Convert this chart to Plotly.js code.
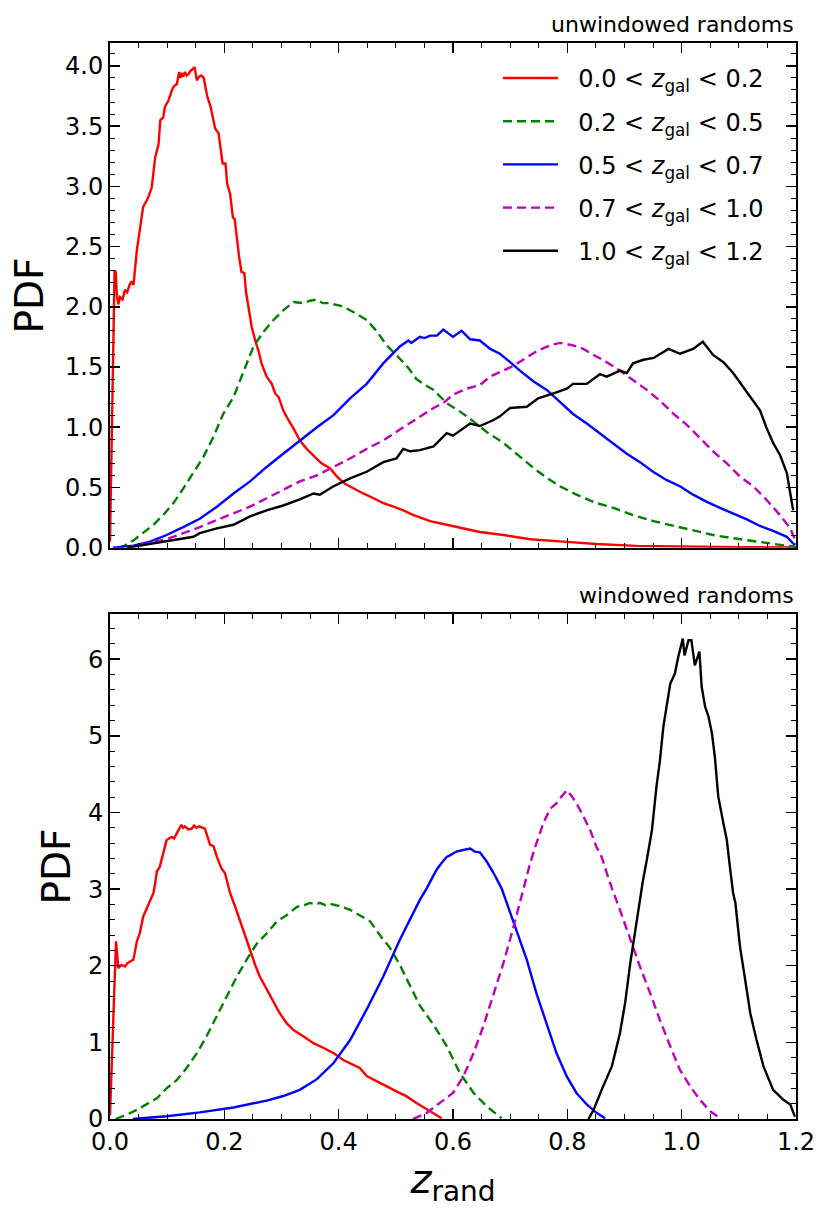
<!DOCTYPE html>
<html>
<head>
<meta charset="utf-8">
<script src="https://cdn.plot.ly/plotly-3.0.1.min.js"></script>
<style>html,body{margin:0;padding:0;background:#fff;}#chart{width:831px;height:1214px;}</style>
</head>
<body>
<div id="chart"></div>
<script>
// ---------- DATA ----------
const seriesNames = ["0.0 < <i>z</i><sub>gal</sub> < 0.2","0.2 < <i>z</i><sub>gal</sub> < 0.5","0.5 < <i>z</i><sub>gal</sub> < 0.7","0.7 < <i>z</i><sub>gal</sub> < 1.0","1.0 < <i>z</i><sub>gal</sub> < 1.2"];
const panelLabels = ["unwindowed randoms","windowed randoms"];
const yTitle = "PDF";
const xTickVals = [0,0.2,0.4,0.6,0.8,1.0,1.2];

// top panel (unwindowed)
const topZ1 = [0.000,0.003,0.006,0.008,0.010,0.012,0.0145,0.0175,0.022,0.026,0.030,0.034,0.038,0.041,0.047,0.052,0.058,0.063,0.067,0.073,0.079,0.085,0.088,0.093,0.096,0.102,0.106,0.110,0.114,0.117,0.121,0.123,0.125,0.128,0.131,0.134,0.137,0.141,0.144,0.148,0.152,0.156,0.160,0.164,0.170,0.176,0.180,0.184,0.190,0.197,0.202,0.205,0.210,0.215,0.218,0.222,0.226,0.230,0.235,0.238,0.242,0.248,0.254,0.260,0.265,0.274,0.283,0.289,0.295,0.303,0.312,0.321,0.332,0.344,0.359,0.370,0.385,0.397,0.411,0.426,0.443,0.461,0.478,0.496,0.513,0.531,0.545,0.560,0.589,0.618,0.647,0.688,0.735,0.793,0.851,0.921,1.009,1.100,1.200];
const topV1 = [0.05,0.9,1.8,2.30,2.29,2.10,2.02,2.08,2.06,2.14,2.12,2.18,2.21,2.18,2.47,2.62,2.83,2.87,2.91,2.99,3.24,3.35,3.55,3.57,3.66,3.71,3.77,3.82,3.84,3.85,3.95,3.90,3.94,3.91,3.95,3.92,3.93,3.96,3.97,3.99,3.88,3.91,3.92,3.90,3.75,3.66,3.57,3.48,3.44,3.19,3.19,3.02,2.94,2.74,2.73,2.54,2.41,2.29,2.28,2.12,2.00,1.83,1.72,1.63,1.53,1.42,1.36,1.28,1.25,1.14,1.06,0.99,0.89,0.82,0.75,0.70,0.66,0.59,0.53,0.49,0.45,0.41,0.37,0.34,0.31,0.27,0.245,0.22,0.19,0.16,0.13,0.105,0.07,0.05,0.03,0.015,0.008,0.004,0.001];

const topZ2 = [0.015,0.023,0.041,0.058,0.076,0.093,0.111,0.128,0.146,0.163,0.181,0.198,0.216,0.233,0.251,0.268,0.286,0.303,0.321,0.338,0.350,0.362,0.372,0.382,0.395,0.402,0.408,0.420,0.432,0.449,0.466,0.484,0.501,0.519,0.536,0.548,0.566,0.589,0.612,0.630,0.659,0.688,0.711,0.741,0.764,0.787,0.816,0.851,0.881,0.915,0.951,0.986,1.020,1.055,1.090,1.125,1.160,1.190,1.200];
const topV2 = [0.0,0.01,0.06,0.12,0.19,0.27,0.37,0.49,0.62,0.75,0.92,1.11,1.25,1.45,1.67,1.79,1.89,1.97,2.04,2.03,2.05,2.06,2.03,2.03,2.02,2.01,2.00,1.97,1.94,1.89,1.80,1.68,1.60,1.51,1.40,1.36,1.31,1.20,1.13,1.07,0.96,0.87,0.78,0.66,0.58,0.51,0.44,0.37,0.33,0.27,0.22,0.18,0.14,0.105,0.078,0.056,0.036,0.017,0.005];

const topZ3 = [0.005,0.041,0.070,0.099,0.128,0.157,0.187,0.216,0.245,0.274,0.303,0.332,0.362,0.391,0.420,0.449,0.478,0.507,0.522,0.527,0.542,0.550,0.560,0.572,0.583,0.600,0.615,0.630,0.647,0.665,0.682,0.700,0.717,0.741,0.764,0.787,0.810,0.834,0.857,0.880,0.904,0.927,0.950,0.974,0.997,1.020,1.044,1.067,1.090,1.114,1.137,1.160,1.184,1.198];
const topV3 = [0.0,0.017,0.05,0.105,0.17,0.24,0.34,0.45,0.55,0.67,0.78,0.89,1.00,1.10,1.24,1.36,1.53,1.67,1.72,1.70,1.75,1.74,1.76,1.76,1.81,1.75,1.80,1.73,1.72,1.65,1.61,1.54,1.47,1.38,1.31,1.21,1.11,1.03,0.95,0.87,0.78,0.71,0.63,0.56,0.51,0.44,0.38,0.33,0.285,0.235,0.18,0.14,0.09,0.02];

const topZ4 = [0.030,0.040,0.070,0.099,0.128,0.157,0.187,0.216,0.245,0.274,0.303,0.332,0.362,0.391,0.420,0.449,0.478,0.507,0.542,0.566,0.583,0.600,0.624,0.647,0.665,0.688,0.706,0.729,0.746,0.770,0.787,0.810,0.828,0.846,0.869,0.892,0.915,0.939,0.962,0.986,1.009,1.032,1.055,1.079,1.102,1.125,1.148,1.172,1.190,1.197,1.200];
const topV4 = [0.0,0.01,0.035,0.07,0.12,0.17,0.23,0.285,0.34,0.41,0.48,0.55,0.60,0.67,0.74,0.82,0.89,0.98,1.09,1.16,1.20,1.27,1.32,1.35,1.42,1.47,1.51,1.58,1.63,1.68,1.70,1.68,1.65,1.60,1.54,1.47,1.39,1.31,1.22,1.11,1.02,0.91,0.80,0.70,0.59,0.51,0.40,0.27,0.16,0.08,0.03];

const topZ5 = [0.030,0.070,0.099,0.122,0.146,0.157,0.187,0.216,0.245,0.274,0.303,0.332,0.356,0.367,0.391,0.420,0.449,0.478,0.501,0.513,0.525,0.542,0.566,0.589,0.600,0.630,0.647,0.671,0.682,0.700,0.729,0.749,0.770,0.781,0.799,0.810,0.834,0.857,0.869,0.892,0.904,0.915,0.933,0.951,0.977,0.997,1.020,1.037,1.055,1.073,1.090,1.108,1.125,1.137,1.148,1.160,1.172,1.184,1.195];
const topV5 = [0.0,0.03,0.05,0.07,0.09,0.12,0.16,0.19,0.26,0.31,0.35,0.40,0.45,0.44,0.51,0.575,0.63,0.71,0.74,0.82,0.80,0.81,0.84,0.95,0.93,1.03,1.01,1.06,1.09,1.16,1.17,1.24,1.27,1.29,1.32,1.36,1.36,1.44,1.42,1.47,1.45,1.53,1.56,1.575,1.65,1.61,1.65,1.71,1.60,1.54,1.45,1.335,1.22,1.14,1.00,0.87,0.77,0.62,0.31];

// bottom panel (windowed)
const botZ1 = [0.000,0.004,0.007,0.0105,0.0125,0.0146,0.020,0.026,0.030,0.035,0.041,0.047,0.052,0.058,0.067,0.076,0.079,0.082,0.087,0.093,0.099,0.108,0.112,0.117,0.125,0.128,0.131,0.137,0.143,0.147,0.151,0.156,0.160,0.166,0.175,0.181,0.187,0.195,0.201,0.207,0.210,0.219,0.227,0.236,0.245,0.254,0.262,0.274,0.286,0.297,0.309,0.321,0.338,0.356,0.373,0.391,0.408,0.426,0.437,0.449,0.466,0.484,0.501,0.519,0.536,0.545,0.560,0.580];
const botV1 = [0.05,0.9,1.7,2.32,2.15,1.97,2.01,1.99,2.03,2.05,2.08,2.32,2.42,2.64,2.79,2.95,3.08,3.23,3.29,3.47,3.64,3.68,3.66,3.73,3.84,3.80,3.82,3.78,3.79,3.83,3.80,3.82,3.81,3.79,3.58,3.56,3.42,3.27,3.21,3.03,2.95,2.77,2.60,2.38,2.19,2.01,1.86,1.69,1.53,1.38,1.25,1.16,1.08,0.99,0.93,0.86,0.77,0.71,0.665,0.56,0.49,0.425,0.36,0.295,0.21,0.165,0.10,0.01];

const botZ2 = [0.010,0.029,0.047,0.064,0.082,0.099,0.117,0.134,0.152,0.169,0.187,0.204,0.222,0.239,0.257,0.274,0.292,0.309,0.327,0.340,0.350,0.360,0.367,0.377,0.385,0.395,0.402,0.420,0.437,0.455,0.472,0.490,0.507,0.525,0.542,0.566,0.589,0.612,0.636,0.659,0.685];
const botV2 = [0.0,0.056,0.12,0.19,0.27,0.40,0.51,0.665,0.86,1.08,1.34,1.60,1.86,2.08,2.29,2.42,2.58,2.66,2.77,2.79,2.82,2.80,2.82,2.79,2.81,2.79,2.78,2.73,2.66,2.58,2.40,2.23,2.01,1.73,1.48,1.23,0.95,0.60,0.34,0.165,0.01];

const botZ3 = [0.040,0.099,0.157,0.216,0.274,0.303,0.332,0.362,0.391,0.420,0.449,0.478,0.507,0.525,0.542,0.554,0.571,0.580,0.589,0.597,0.606,0.618,0.630,0.638,0.647,0.659,0.671,0.685,0.694,0.711,0.729,0.746,0.764,0.781,0.799,0.816,0.834,0.851,0.866];
const botV3 = [0.0,0.035,0.086,0.15,0.24,0.30,0.38,0.52,0.73,1.03,1.43,1.86,2.34,2.60,2.86,3.01,3.25,3.34,3.42,3.45,3.49,3.51,3.53,3.49,3.48,3.36,3.21,3.01,2.82,2.47,2.08,1.64,1.25,0.86,0.555,0.34,0.19,0.08,0.01];

const botZ4 = [0.530,0.554,0.577,0.600,0.618,0.636,0.653,0.671,0.688,0.706,0.723,0.735,0.746,0.758,0.770,0.781,0.790,0.799,0.808,0.816,0.828,0.840,0.851,0.860,0.869,0.878,0.892,0.910,0.927,0.945,0.962,0.980,0.997,1.015,1.032,1.050,1.067];
const botV4 = [0.0,0.08,0.21,0.34,0.555,0.86,1.21,1.64,2.03,2.51,2.98,3.34,3.60,3.86,4.05,4.12,4.21,4.29,4.21,4.12,3.95,3.77,3.55,3.42,3.21,3.01,2.73,2.34,1.99,1.64,1.29,0.95,0.64,0.425,0.25,0.10,0.013];

const botZ5 = [0.837,0.846,0.860,0.878,0.892,0.901,0.910,0.919,0.927,0.932,0.939,0.948,0.956,0.962,0.968,0.974,0.980,0.988,0.994,1.002,1.005,1.012,1.017,1.023,1.031,1.035,1.041,1.047,1.053,1.058,1.064,1.073,1.079,1.085,1.090,1.094,1.102,1.111,1.120,1.131,1.143,1.160,1.178,1.190,1.198];
const botV5 = [0.0,0.12,0.38,0.69,1.12,1.51,2.03,2.47,2.86,3.10,3.38,3.77,4.34,4.68,5.12,5.42,5.68,5.81,6.03,6.27,6.05,6.25,6.25,5.92,6.10,5.64,5.38,5.25,5.03,4.73,4.21,3.86,3.64,3.25,2.95,2.82,2.25,1.82,1.38,1.03,0.69,0.38,0.25,0.19,0.03];

// ---------- STYLE ----------
const colors = ["#ff0000","#008000","#0000ff","#bf00bf","#000000"];
const dashes = ["solid","9px,5px","solid","9px,5px","solid"];
const FONT = "DejaVu Sans, Verdana, sans-serif";
const LW = 2.4;

const topZ = [topZ1,topZ2,topZ3,topZ4,topZ5];
const topV = [topV1,topV2,topV3,topV4,topV5];
const botZ = [botZ1,botZ2,botZ3,botZ4,botZ5];
const botV = [botV1,botV2,botV3,botV4,botV5];

const traces = [];
for (let i = 0; i < 5; i++) {
  traces.push({x: topZ[i], y: topV[i], type: 'scatter', mode: 'lines', name: '\u00a0\u00a0' + seriesNames[i],
    legendgroup: 'g' + i, showlegend: true, xaxis: 'x', yaxis: 'y',
    line: {color: colors[i], width: LW, dash: dashes[i]}, hoverinfo: 'skip'});
}
for (let i = 0; i < 5; i++) {
  traces.push({x: botZ[i], y: botV[i], type: 'scatter', mode: 'lines', name: seriesNames[i],
    legendgroup: 'g' + i, showlegend: false, xaxis: 'x2', yaxis: 'y2',
    line: {color: colors[i], width: LW, dash: dashes[i]}, hoverinfo: 'skip'});
}

function axisBase() {
  return {showline: true, linewidth: 2, linecolor: '#000', mirror: 'allticks',
    ticks: 'inside', ticklen: 10, tickwidth: 1.5, tickcolor: '#000',
    showgrid: false, zeroline: false,
    tickfont: {family: FONT, size: 24, color: '#000'}};
}

const xTop = Object.assign(axisBase(), {domain: [0, 1], anchor: 'y', range: [0, 1.2],
  tickmode: 'array', tickvals: xTickVals, showticklabels: false,
  minor: {ticks: 'inside', ticklen: 5, tickwidth: 1, tickcolor: '#000', dtick: 0.05, tick0: 0, showgrid: false}});
const xBot = Object.assign(axisBase(), {domain: [0, 1], anchor: 'y2', range: [0, 1.2], matches: 'x',
  tickmode: 'array', tickvals: xTickVals, tickformat: '.1f', showticklabels: true,
  minor: {ticks: 'inside', ticklen: 5, tickwidth: 1, tickcolor: '#000', dtick: 0.05, tick0: 0, showgrid: false},
  title: {text: '<i>z</i><sub>rand</sub>', font: {family: FONT, size: 40, color: '#000'}, standoff: 10}});
const yTop = Object.assign(axisBase(), {domain: [0.531, 1], anchor: 'x', range: [0, 4.19],
  tick0: 0, dtick: 0.5, tickformat: '.1f',
  minor: {ticks: 'inside', ticklen: 5, tickwidth: 1, tickcolor: '#000', dtick: 0.1, tick0: 0, showgrid: false}});
const yBot = Object.assign(axisBase(), {domain: [0, 0.4693], anchor: 'x2', range: [0, 6.59],
  tick0: 0, dtick: 1, tickformat: 'd',
  minor: {ticks: 'inside', ticklen: 5, tickwidth: 1, tickcolor: '#000', dtick: 0.2, tick0: 0, showgrid: false}});

const layout = {
  width: 831, height: 1214,
  margin: {l: 110, r: 35, t: 43, b: 95, pad: 0},
  paper_bgcolor: '#fff', plot_bgcolor: '#fff',
  showlegend: true,
  font: {family: FONT, color: '#000'},
  xaxis: xTop, yaxis: yTop, xaxis2: xBot, yaxis2: yBot,
  legend: {x: 0.5656, y: 0.988, xanchor: 'left', yanchor: 'top', bgcolor: 'rgba(0,0,0,0)',
    borderwidth: 0, font: {family: FONT, size: 24, color: '#000'}, itemwidth: 55,
    traceorder: 'grouped', tracegroupgap: 9},
  annotations: [
    {text: panelLabels[0], xref: 'paper', yref: 'paper', x: 1, y: 1, xanchor: 'right', yanchor: 'bottom',
      yshift: 4, showarrow: false, font: {family: FONT, size: 22, color: '#000'}},
    {text: panelLabels[1], xref: 'paper', yref: 'paper', x: 1, y: 0.4693, xanchor: 'right', yanchor: 'bottom',
      yshift: 4, showarrow: false, font: {family: FONT, size: 22, color: '#000'}},
    {text: yTitle, xref: 'paper', yref: 'paper', x: -0.1166, y: 0.7653, xanchor: 'center', yanchor: 'middle',
      textangle: -90, showarrow: false, font: {family: FONT, size: 39, color: '#000'}},
    {text: yTitle, xref: 'paper', yref: 'paper', x: -0.0787, y: 0.2347, xanchor: 'center', yanchor: 'middle',
      textangle: -90, showarrow: false, font: {family: FONT, size: 39, color: '#000'}}
  ]
};

Plotly.newPlot('chart', traces, layout, {displayModeBar: false, staticPlot: true});
</script>
</body>
</html>
